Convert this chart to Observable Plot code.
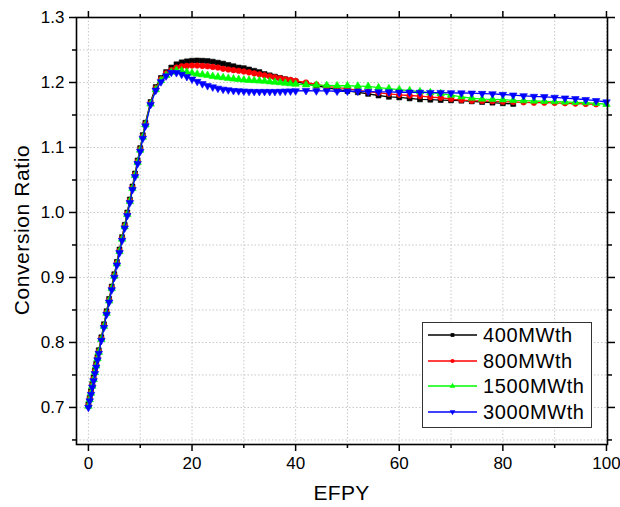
<!DOCTYPE html>
<html><head><meta charset="utf-8">
<script src="https://cdn.jsdelivr.net/npm/d3@7"></script>
<script src="https://cdn.jsdelivr.net/npm/@observablehq/plot@0.6"></script>
<style>
html,body{margin:0;padding:0;background:#fff;}
#wrap{position:relative;width:620px;height:507px;font-family:"Liberation Sans",Arial,sans-serif;color:#000;}
#wrap > svg{position:absolute;left:0;top:0;}
.legend{position:absolute;left:422px;top:322px;width:170px;height:106px;border:1px solid #333;background:#fff;box-sizing:border-box;}
.row{position:absolute;left:4px;height:26px;display:flex;align-items:center;}
.row svg{display:block;flex:none;}
.row span{font-size:20px;letter-spacing:0.6px;margin-left:5px;white-space:nowrap;line-height:26px;}
.xt{position:absolute;left:76px;width:531px;top:481px;text-align:center;font-size:21px;line-height:24px;letter-spacing:0.3px;}
.yt{position:absolute;left:22px;top:230px;transform:translate(-50%,-50%) rotate(-90deg);font-size:21px;white-space:nowrap;line-height:24px;letter-spacing:0.6px;}
</style>
</head><body><div id="wrap"></div>
<script>
// ---- data (EFPY, conversion ratio) ----
const s400 = [[0,0.705],[0.25,0.715],[0.5,0.725],[0.75,0.736],[1,0.746],[1.25,0.757],[1.5,0.767],[1.75,0.778],[2,0.788],[2.5,0.808],[3,0.828],[3.5,0.848],[4,0.867],[4.5,0.886],[5,0.905],[5.5,0.924],[6,0.943],[6.5,0.962],[7,0.981],[7.5,1.000],[8,1.020],[8.5,1.040],[9,1.060],[9.5,1.080],[10,1.099],[10.5,1.119],[11,1.138],[12,1.170],[13,1.193],[14,1.207],[15,1.216],[16,1.223],[17,1.228],[18,1.231],[19,1.2325],[20,1.2335],[21,1.2338],[22,1.2335],[23,1.233],[24,1.232],[25,1.2305],[26,1.229],[27,1.227],[28,1.225],[29,1.223],[30,1.222],[31,1.220],[32,1.218],[33,1.216],[34,1.213],[35,1.211],[36,1.209],[37,1.207],[38,1.205],[39,1.203],[40,1.2015],[42,1.198],[44,1.195],[46,1.192],[48,1.189],[50,1.187],[52,1.185],[54,1.1825],[56,1.180],[58,1.178],[60,1.177],[62,1.1755],[64,1.174],[66,1.1735],[68,1.173],[70,1.1725],[72,1.172],[74,1.171],[76,1.170],[78,1.169],[80,1.168],[82,1.167]];
const s800 = [[0,0.703],[0.25,0.713],[0.5,0.723],[0.75,0.734],[1,0.744],[1.25,0.755],[1.5,0.765],[1.75,0.776],[2,0.786],[2.5,0.806],[3,0.826],[3.5,0.846],[4,0.865],[4.5,0.884],[5,0.903],[5.5,0.922],[6,0.941],[6.5,0.960],[7,0.979],[7.5,0.998],[8,1.018],[8.5,1.038],[9,1.058],[9.5,1.078],[10,1.097],[10.5,1.117],[11,1.136],[12,1.168],[13,1.191],[14,1.205],[15,1.214],[16,1.219],[17,1.223],[18,1.225],[19,1.2255],[20,1.226],[21,1.226],[22,1.2255],[23,1.225],[24,1.224],[25,1.223],[26,1.221],[27,1.220],[28,1.219],[29,1.218],[30,1.217],[31,1.2155],[32,1.214],[33,1.2125],[34,1.211],[35,1.2095],[36,1.208],[37,1.2065],[38,1.205],[39,1.204],[40,1.2025],[42,1.200],[44,1.197],[46,1.194],[48,1.192],[50,1.1905],[52,1.188],[54,1.186],[56,1.184],[58,1.1825],[60,1.181],[62,1.180],[64,1.179],[66,1.1775],[68,1.1765],[70,1.1745],[72,1.173],[74,1.172],[76,1.1715],[78,1.171],[80,1.1705],[82,1.170],[84,1.1695],[86,1.169],[88,1.169],[90,1.1685],[92,1.168],[94,1.1675],[96,1.167],[98,1.1665]];
const s1500 = [[0,0.702],[0.25,0.712],[0.5,0.722],[0.75,0.733],[1,0.743],[1.25,0.754],[1.5,0.764],[1.75,0.775],[2,0.785],[2.5,0.805],[3,0.825],[3.5,0.845],[4,0.864],[4.5,0.883],[5,0.902],[5.5,0.921],[6,0.940],[6.5,0.959],[7,0.978],[7.5,0.997],[8,1.017],[8.5,1.037],[9,1.057],[9.5,1.077],[10,1.096],[10.5,1.116],[11,1.135],[12,1.167],[13,1.189],[14,1.203],[15,1.211],[16,1.216],[17,1.2185],[18,1.218],[19,1.216],[20,1.2145],[21,1.213],[22,1.212],[23,1.211],[24,1.2095],[25,1.2085],[26,1.2075],[27,1.2065],[28,1.2055],[29,1.2048],[30,1.204],[31,1.2035],[32,1.203],[33,1.2025],[34,1.202],[35,1.2012],[36,1.2005],[37,1.1998],[38,1.199],[39,1.1982],[40,1.1975],[42,1.1965],[44,1.196],[46,1.1955],[48,1.195],[50,1.195],[52,1.1945],[54,1.194],[56,1.192],[58,1.1905],[60,1.189],[62,1.1875],[64,1.186],[66,1.1845],[68,1.183],[70,1.1805],[72,1.178],[74,1.176],[76,1.1745],[78,1.174],[80,1.1735],[82,1.1725],[84,1.172],[86,1.1715],[88,1.171],[90,1.1705],[92,1.170],[94,1.1695],[96,1.169],[98,1.168],[100,1.1665]];
const s3000 = [[0,0.700],[0.25,0.710],[0.5,0.720],[0.75,0.731],[1,0.741],[1.25,0.752],[1.5,0.762],[1.75,0.773],[2,0.783],[2.5,0.803],[3,0.823],[3.5,0.843],[4,0.862],[4.5,0.881],[5,0.900],[5.5,0.919],[6,0.938],[6.5,0.957],[7,0.976],[7.5,0.995],[8,1.015],[8.5,1.035],[9,1.055],[9.5,1.075],[10,1.094],[10.5,1.114],[11,1.133],[12,1.166],[13,1.188],[14,1.201],[15,1.210],[16,1.2155],[17,1.215],[18,1.2125],[19,1.209],[20,1.205],[21,1.2015],[22,1.198],[23,1.195],[24,1.193],[25,1.191],[26,1.1895],[27,1.1885],[28,1.1875],[29,1.187],[30,1.1865],[31,1.1862],[32,1.186],[33,1.186],[34,1.186],[35,1.186],[36,1.186],[37,1.1862],[38,1.1865],[39,1.1868],[40,1.187],[42,1.1875],[44,1.187],[46,1.187],[48,1.1865],[50,1.1865],[52,1.1865],[54,1.186],[56,1.1855],[58,1.1855],[60,1.185],[62,1.185],[64,1.1848],[66,1.1845],[68,1.1845],[70,1.184],[72,1.1838],[74,1.1835],[76,1.183],[78,1.1825],[80,1.1815],[82,1.1805],[84,1.1795],[86,1.1785],[88,1.178],[90,1.177],[92,1.176],[94,1.175],[96,1.1735],[98,1.172],[100,1.170]];

const seriesNames = ["400MWth","800MWth","1500MWth","3000MWth"];
const seriesColors = ["#000000","#ff0000","#00ff00","#0000ff"];
const seriesData = [s400, s800, s1500, s3000];

const xMajor = [0,20,40,60,80,100];
const xMinor = [10,30,50,70,90];
const xGridTicks = [0,10,20,30,40,50,60,70,80,90,100];
const yMajor = [0.7,0.8,0.9,1.0,1.1,1.2,1.3];
const yMinor = [0.65,0.75,0.85,0.95,1.05,1.15,1.25];
const yGridTicks = [0.65,0.7,0.75,0.8,0.85,0.9,0.95,1.0,1.05,1.1,1.15,1.2,1.25,1.3];
const xTitle = "EFPY";
const yTitle = "Conversion Ratio";

// ---- symbols ----
const triDown = {draw(ctx, size){
  const y = -Math.sqrt(size / (Math.sqrt(3) * 3));
  ctx.moveTo(0, -y * 2);
  ctx.lineTo(-Math.sqrt(3) * y, y);
  ctx.lineTo(Math.sqrt(3) * y, y);
  ctx.closePath();
}};
const seriesSymbols = ["square","circle","triangle",triDown];
const legendSymbols = [d3.symbolSquare, d3.symbolCircle, d3.symbolTriangle, triDown];

const gridStyle = {stroke:"#c8c8c8", strokeOpacity:1, strokeWidth:1, strokeDasharray:"1.5,2"};
const marks = [
  Plot.gridX(xGridTicks, gridStyle),
  Plot.gridY(yGridTicks, gridStyle)
];
seriesData.forEach((s, i) => {
  const rows = s.map(([x, y]) => ({x, y}));
  marks.push(Plot.line(rows, {x:"x", y:"y", stroke:seriesColors[i], strokeWidth:1.3}));
  marks.push(Plot.dot(rows, {x:"x", y:"y", symbol:seriesSymbols[i], r:2.8, fill:seriesColors[i], stroke:seriesColors[i], strokeWidth:0.6}));
});
const blank = () => "";
marks.push(
  Plot.frame({stroke:"#000", strokeWidth:1.6}),
  Plot.axisX(xMajor, {anchor:"bottom", tickSize:7, tickPadding:5, strokeWidth:1.5, fontSize:17, tickFormat:d => String(d), label:null}),
  Plot.axisX(xMinor, {anchor:"bottom", tickSize:4, strokeWidth:1.5, tickFormat:blank, label:null}),
  Plot.axisX(xMajor, {anchor:"top", tickSize:7, strokeWidth:1.5, tickFormat:blank, label:null}),
  Plot.axisX(xMinor, {anchor:"top", tickSize:4, strokeWidth:1.5, tickFormat:blank, label:null}),
  Plot.axisY(yMajor, {anchor:"left", tickSize:7, tickPadding:5, strokeWidth:1.5, fontSize:17, tickFormat:d3.format(".1f"), label:null}),
  Plot.axisY(yMinor, {anchor:"left", tickSize:4, strokeWidth:1.5, tickFormat:blank, label:null}),
  Plot.axisY(yMajor, {anchor:"right", tickSize:7, strokeWidth:1.5, tickFormat:blank, label:null}),
  Plot.axisY(yMinor, {anchor:"right", tickSize:4, strokeWidth:1.5, tickFormat:blank, label:null})
);

const chart = Plot.plot({
  width: 620, height: 507,
  marginLeft: 76, marginRight: 13, marginTop: 17, marginBottom: 63,
  style: {fontFamily: '"Liberation Sans", Arial, sans-serif', color: "#000", background: "#fff"},
  x: {domain: [-2.3, 100.2]},
  y: {domain: [0.643, 1.3]},
  marks
});
const wrap = document.getElementById("wrap");
wrap.appendChild(chart);

// axis titles
const xt = document.createElement("div"); xt.className = "xt"; xt.textContent = xTitle; wrap.appendChild(xt);
const yt = document.createElement("div"); yt.className = "yt"; yt.textContent = yTitle; wrap.appendChild(yt);

// legend
const leg = document.createElement("div"); leg.className = "legend"; wrap.appendChild(leg);
seriesNames.forEach((name, i) => {
  const row = document.createElement("div"); row.className = "row";
  row.style.top = (-1 + i * 25.7) + "px";
  const svg = d3.create("svg").attr("width", 51).attr("height", 26);
  svg.append("line").attr("x1", 1).attr("x2", 50).attr("y1", 13).attr("y2", 13).attr("stroke", seriesColors[i]).attr("stroke-width", 1.4);
  svg.append("path").attr("d", d3.symbol(legendSymbols[i], 14)()).attr("transform", "translate(25.5,13)").attr("fill", seriesColors[i]);
  row.appendChild(svg.node());
  const t = document.createElement("span"); t.textContent = name; row.appendChild(t);
  leg.appendChild(row);
});
</script>
</body></html>
